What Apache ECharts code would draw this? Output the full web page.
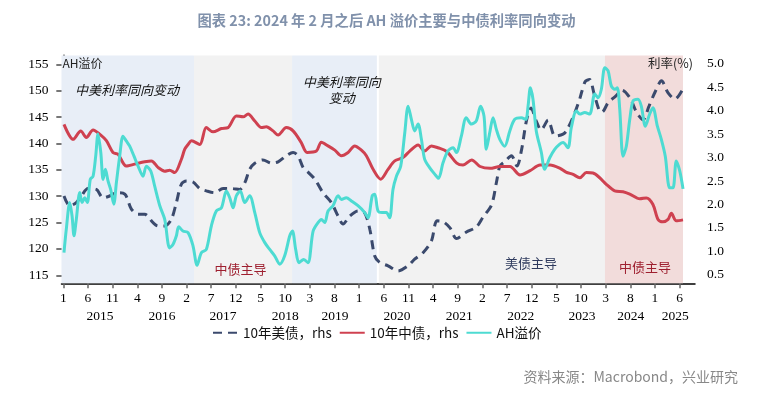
<!DOCTYPE html>
<html><head><meta charset="utf-8">
<script src="https://cdn.jsdelivr.net/npm/echarts@6/dist/echarts.min.js"></script>
<style>html,body{margin:0;padding:0;background:#fff}#c{width:773px;height:393px}</style>
</head><body><div id="c"></div>
<script>
// ---- data ----
const usDates = ['2015-01-05','2015-02-10','2015-03-20','2015-04-21','2015-06-01','2015-07-22','2015-09-03','2015-10-13','2015-11-24','2016-01-15',
'2016-02-25','2016-04-06','2016-05-16','2016-07-07','2016-08-07','2016-09-18','2016-10-28','2016-11-29','2016-12-29','2017-01-30',
'2017-03-10','2017-04-21','2017-06-01','2017-07-22','2017-09-13','2017-11-03','2017-12-24','2018-01-25','2018-02-25','2018-03-26',
'2018-05-16','2018-07-07','2018-08-18','2018-10-08','2018-11-19','2018-12-19','2019-01-20','2019-02-20','2019-04-01','2019-05-21',
'2019-07-12','2019-08-23','2019-09-23','2019-11-04','2019-12-24','2020-02-05','2020-03-06','2020-04-06','2020-05-06','2020-06-27',
'2020-08-28','2020-10-29','2020-12-09','2021-01-30','2021-03-21','2021-04-25','2021-06-03','2021-07-14','2021-08-24','2021-10-24',
'2021-12-25','2022-02-05','2022-03-27','2022-04-27','2022-05-18','2022-06-17','2022-07-28','2022-09-02','2022-09-29','2022-10-30',
'2022-11-27','2022-12-29','2023-01-28','2023-03-11','2023-04-23','2023-06-12','2023-07-06','2023-08-25','2023-09-25','2023-10-26',
'2023-11-23','2023-12-21','2024-01-21','2024-02-09','2024-03-16','2024-05-04','2024-06-11','2024-07-30','2024-09-09','2024-10-19',
'2024-11-25','2025-01-02','2025-02-11','2025-03-21','2025-05-03','2025-06-22'];
const usYield = [2.18,1.97,2.04,2.18,2.34,2.32,2.14,2.18,2.25,2.22,
1.90,1.79,1.79,1.61,1.54,1.54,1.68,2.04,2.43,2.50,
2.48,2.34,2.29,2.25,2.34,2.34,2.32,2.46,2.75,2.88,
2.95,2.88,2.91,3.04,3.11,3.04,2.79,2.69,2.54,2.25,
2.04,1.75,1.58,1.75,1.86,1.82,1.47,0.90,0.76,0.69,
0.58,0.69,0.83,0.97,1.22,1.65,1.63,1.50,1.27,1.41,
1.52,1.73,1.99,2.48,2.82,2.91,3.04,2.82,3.16,3.80,
4.06,3.78,3.59,3.80,3.46,3.50,3.59,3.97,4.27,4.62,
4.67,4.36,4.02,3.97,4.17,4.32,4.44,4.27,3.97,3.81,
4.10,4.40,4.64,4.38,4.25,4.47];

const cnDates = ['2015-01-05','2015-03-01','2015-04-17','2015-05-21','2015-07-02','2015-08-12','2015-09-23','2015-11-03','2015-12-04','2016-01-24',
'2016-03-15','2016-05-16','2016-06-27','2016-08-07','2016-09-18','2016-10-18','2016-11-19','2016-12-29','2017-01-20','2017-02-10',
'2017-03-01','2017-04-21','2017-06-01','2017-07-12','2017-09-03','2017-10-13','2017-12-04','2018-01-15','2018-02-15','2018-03-26',
'2018-05-06','2018-06-06','2018-07-17','2018-08-18','2018-10-08','2018-11-19','2019-01-09','2019-02-14','2019-04-11','2019-05-11',
'2019-06-22','2019-08-03','2019-09-13','2019-10-24','2019-12-04','2020-01-15','2020-02-15','2020-03-26','2020-05-12','2020-06-27',
'2020-08-08','2020-09-28','2020-11-09','2020-12-30','2021-02-10','2021-03-21','2021-05-01','2021-06-24','2021-08-25','2021-10-03',
'2021-11-26','2022-01-17','2022-03-18','2022-05-18','2022-07-19','2022-09-20','2022-11-21','2023-01-22','2023-03-23','2023-05-24',
'2023-06-30','2023-08-13','2023-09-24','2023-11-04','2023-12-14','2024-01-25','2024-03-05','2024-04-26','2024-06-17','2024-07-28',
'2024-09-29','2024-11-09','2024-12-19','2025-01-20','2025-02-20','2025-03-21','2025-04-11','2025-05-11','2025-06-22'];
const cnYield = [3.71,3.39,3.57,3.43,3.59,3.50,3.36,3.11,3.07,2.82,
2.86,2.91,2.93,2.79,2.71,2.73,2.68,2.96,3.18,3.28,
3.36,3.28,3.64,3.55,3.62,3.64,3.89,3.87,3.93,3.78,
3.64,3.66,3.57,3.48,3.64,3.57,3.32,3.11,3.14,3.33,
3.25,3.16,3.04,3.11,3.25,3.16,3.04,2.75,2.54,2.75,
2.93,3.00,3.14,3.27,3.14,3.25,3.21,3.13,2.88,2.84,
2.95,2.81,2.77,2.81,2.81,2.63,2.72,2.84,2.84,2.77,
2.69,2.64,2.57,2.68,2.67,2.57,2.43,2.29,2.27,2.22,
2.12,2.14,2.00,1.68,1.63,1.68,1.81,1.65,1.67];

const ahDates = ['2015-01-05','2015-01-19','2015-02-10','2015-02-24','2015-03-06','2015-03-20','2015-04-11','2015-04-25','2015-05-11','2015-05-27',
'2015-06-15','2015-07-02','2015-07-18','2015-08-02','2015-08-19','2015-09-03','2015-09-17','2015-10-03','2015-10-19','2015-11-08',
'2015-11-24','2015-12-14','2016-01-04','2016-01-24','2016-02-15','2016-03-11','2016-04-06','2016-05-06','2016-05-26','2016-06-23',
'2016-07-17','2016-08-18','2016-09-18','2016-10-18','2016-11-09','2016-11-29','2016-12-13','2017-01-09','2017-02-10','2017-03-10',
'2017-04-05','2017-05-01','2017-06-01','2017-07-02','2017-08-02','2017-09-03','2017-10-03','2017-10-24','2017-11-14','2017-12-04',
'2017-12-28','2018-01-25','2018-02-25','2018-03-26','2018-04-26','2018-05-27','2018-06-27','2018-07-27','2018-08-28','2018-09-28',
'2018-10-29','2018-11-15','2018-12-05','2018-12-25','2019-01-24','2019-02-20','2019-03-21','2019-04-21','2019-05-11','2019-06-02',
'2019-06-22','2019-07-22','2019-08-23','2019-09-13','2019-10-13','2019-11-14','2019-12-24','2020-02-05','2020-02-25','2020-03-21',
'2020-04-06','2020-04-26','2020-05-21','2020-06-17','2020-07-07','2020-07-27','2020-08-18','2020-09-14','2020-10-09','2020-10-29',
'2020-11-19','2020-12-09','2020-12-30','2021-01-20','2021-02-10','2021-03-11','2021-04-11','2021-05-04','2021-06-02','2021-07-02',
'2021-08-03','2021-08-23','2021-09-23','2021-10-23','2021-11-24','2021-12-24','2022-01-20','2022-02-11','2022-02-25','2022-03-16',
'2022-04-06','2022-04-26','2022-05-17','2022-06-17','2022-07-18','2022-08-18','2022-09-28','2022-10-25','2022-11-09','2022-11-23',
'2022-12-09','2022-12-29','2023-01-30','2023-02-20','2023-03-21','2023-04-21','2023-05-22','2023-06-12','2023-07-12','2023-08-02',
'2023-09-03','2023-09-24','2023-10-24','2023-11-24','2023-12-25','2024-01-15','2024-02-05','2024-02-26','2024-03-16','2024-04-06',
'2024-04-27','2024-05-12','2024-05-27','2024-06-17','2024-07-07','2024-07-28','2024-08-18','2024-09-18','2024-10-08','2024-11-03',
'2024-11-29','2024-12-19','2025-01-16','2025-02-10','2025-03-04','2025-04-01','2025-04-21','2025-05-11','2025-06-02','2025-06-22'];
const ahPremium = [119.3,123.7,128.8,126.3,122.5,125.6,130.7,128.8,129.7,128.8,
133.2,133.8,137.6,141.8,138.3,133.2,135.1,132.9,131.3,128.5,
132.6,137.6,141.4,140.5,139.5,137.6,135.7,133.8,135.7,134.8,
131.9,128.2,125.6,120.2,120.9,122.5,124.2,123.4,123.1,120.6,
116.9,119.3,119.9,124.4,127.2,127.8,131.0,129.7,127.8,130.1,
131.0,128.8,130.1,126.9,123.1,121.2,119.9,118.7,117.1,118.7,
122.5,123.4,119.9,117.4,118.0,117.4,123.4,125.0,125.6,125.0,
127.2,128.2,130.1,129.4,129.7,129.1,128.2,126.9,125.9,130.1,
130.4,127.2,126.9,126.9,125.9,131.3,133.8,135.7,142.1,147.1,
144.6,142.4,143.7,140.8,137.0,135.4,134.2,133.4,136.4,138.6,
139.2,138.3,141.4,144.9,143.7,144.3,147.1,145.2,138.9,142.1,
144.9,142.7,140.8,139.5,142.4,144.6,144.9,144.6,147.1,150.6,
148.4,142.4,138.3,135.1,137.3,138.9,139.9,140.2,139.2,143.0,
146.2,145.6,145.9,145.6,149.4,148.7,150.3,154.4,153.8,150.9,
150.3,150.6,146.5,137.6,139.5,144.6,148.1,148.4,147.1,143.3,
145.6,146.8,143.3,140.8,137.6,131.6,131.6,136.7,134.8,131.4];

const leftTicks = [115,120,125,130,135,140,145,150,155];
const rightTicks = [0.5,1.0,1.5,2.0,2.5,3.0,3.5,4.0,4.5,5.0];
const monthTickLabels = ['1','6','11','4','9','2','7','12','5','10','3','8','1','6','11','4','9','2','7','12','5','10','3','8','1','6'];
const yearLabels = ['2015','2016','2017','2018','2019','2020','2021','2022','2023','2024','2025'];
const yearLabelDates = ['2015-08-14','2016-09-01','2017-09-13','2018-10-01','2019-08-04','2020-08-22','2021-09-10','2022-09-25','2023-10-07','2024-08-04','2025-05-04'];
// shaded periods: [start, end, kind]
const periods = [['2015-01-01','2017-03-16','同向'],['2017-03-16','2018-11-13','中债'],['2018-11-13','2020-04-19','同向'],['2020-05-01','2024-02-27','美债'],['2024-02-27','2025-06-22','中债2']];

// ---- helpers ----
function mi(d){ const p=d.split('-').map(Number); return (p[0]-2015)*12+(p[1]-1)+(p[2]-1)/30; }
const X_MIN=-0.37, X_MAX=128.13;
const bandColor = {'同向':'#e8eef7','中债':'#f2f2f2','美债':'#f2f2f2','中债2':'#f2dcdb'};
const serif = "'Liberation Serif','DejaVu Serif',serif";
const cjk = "'Noto Sans CJK SC','Noto Sans',sans-serif";

const chart = echarts.init(document.getElementById('c'));
const monthTickVals = monthTickLabels.map((_,i)=>i*5);
const yearVals = yearLabelDates.map(mi);

const option = {
  animation:false,
  backgroundColor:'#fff',
  title:{text:'图表 23: 2024 年 2 月之后 AH 溢价主要与中债利率同向变动', left:'center', top:8,
    textStyle:{fontFamily:cjk, fontSize:14.3, fontWeight:'bold', color:'#8091ab'}},
  grid:{left:61.5, right:78, top:55.5, bottom:109.7, containLabel:false},
  legend:{left:212, top:326, itemGap:7, itemWidth:25, itemHeight:12, padding:0,
    itemStyle:{opacity:0},
    textStyle:{fontFamily:cjk, fontSize:13.5, color:'#111'},
    data:['10年美债，rhs','10年中债，rhs','AH溢价']},
  xAxis:[{type:'value', min:X_MIN, max:X_MAX, position:'bottom',
      axisLine:{show:true, lineStyle:{color:'#000', width:1.5}},
      axisTick:{show:true, customValues:monthTickVals, length:5, lineStyle:{color:'#666', width:1.5}},
      axisLabel:{customValues:monthTickVals, margin:8, fontFamily:serif, fontSize:13.5, color:'#000',
        formatter:v=>monthTickLabels[Math.round(v/5)]},
      splitLine:{show:false}},
    {type:'value', min:X_MIN, max:X_MAX, position:'bottom', gridIndex:0,
      axisLine:{show:false}, axisTick:{show:false}, splitLine:{show:false},
      axisLabel:{customValues:yearVals, margin:26, fontFamily:serif, fontSize:13.5, color:'#000',
        formatter:v=>{let b=0,bd=1e9;yearVals.forEach((y,i)=>{if(Math.abs(y-v)<bd){bd=Math.abs(y-v);b=i;}});return yearLabels[b];}}}],
  yAxis:[{type:'value', min:113.48, max:156.71, position:'left',
      axisLine:{show:true, lineStyle:{color:'#000', width:1.5}},
      axisTick:{show:true, customValues:leftTicks, length:7, lineStyle:{color:'#777', width:2}},
      axisLabel:{customValues:leftTicks, margin:13, fontFamily:serif, fontSize:13.5, color:'#000'},
      splitLine:{show:false}},
    {type:'value', min:0.316, max:5.18, position:'right',
      axisLine:{show:true, lineStyle:{color:'#7f7f7f', width:2}},
      axisTick:{show:true, customValues:rightTicks, length:7, lineStyle:{color:'#777', width:2}},
      axisLabel:{customValues:rightTicks, margin:12, fontFamily:serif, fontSize:13.5, color:'#000', formatter:v=>v.toFixed(1)},
      splitLine:{show:false}}],
  series:[
    {name:'bands', type:'line', data:[], xAxisIndex:0, yAxisIndex:0, z:1, silent:true,
      markArea:{silent:true, data: periods.map(p=>[{xAxis: p[0]===periods[0][0]?X_MIN:mi(p[0]), itemStyle:{color:bandColor[p[2]]}},{xAxis:mi(p[1])}])}},
    {name:'10年美债，rhs', type:'line', xAxisIndex:0, yAxisIndex:1, z:3, symbol:'none', smooth:0.3,
      data: usDates.map((d,i)=>[mi(d), usYield[i]]),
      lineStyle:{color:'#3b4a6d', width:3, type:[9,6]}, itemStyle:{color:'#3b4a6d'}},
    {name:'10年中债，rhs', type:'line', xAxisIndex:0, yAxisIndex:1, z:4, symbol:'none', smooth:0.3,
      data: cnDates.map((d,i)=>[mi(d), cnYield[i]]),
      lineStyle:{color:'#cf4150', width:3}, itemStyle:{color:'#cf4150'}},
    {name:'AH溢价', type:'line', xAxisIndex:0, yAxisIndex:0, z:5, symbol:'none', smooth:0.3,
      data: ahDates.map((d,i)=>[mi(d), ahPremium[i]]),
      lineStyle:{color:'#4ddbd2', width:3}, itemStyle:{color:'#4ddbd2'}}
  ]
};
chart.setOption(option);

// annotations anchored in data space
const notes = [
  {text:'中美利率同向变动', at:['2016-01-29',150.2], color:'#111', italic:true},
  {text:'中美利率同向\n变动', at:['2019-09-16',150.2], color:'#111', italic:true},
  {text:'中债主导', at:['2017-12-29',116.2], color:'#9e1f2f', italic:false},
  {text:'美债主导', at:['2022-11-27',117.3], color:'#2f3b5e', italic:false},
  {text:'中债主导', at:['2024-11-01',116.6], color:'#9e1f2f', italic:false}
];
const g = notes.map(n=>{
  const p = chart.convertToPixel({xAxisIndex:0, yAxisIndex:0}, [mi(n.at[0]), n.at[1]]);
  return {type:'text', x:p[0], y:p[1], z:10, silent:true,
    style:{text:n.text, fill:n.color, font:(n.italic?'italic ':'')+'13px '+cjk, align:'center', verticalAlign:'middle', lineHeight:16}};
});
// axis titles at the top corners of the plot
const tl = chart.convertToPixel({xAxisIndex:0, yAxisIndex:0}, [X_MIN, 155]);
const tr = chart.convertToPixel({xAxisIndex:0, yAxisIndex:1}, [X_MAX, 5.0]);
g.push({type:'text', x:tl[0]+1, y:tl[1]-1, z:10, silent:true,
  style:{text:'AH溢价', fill:'#222', font:'12px '+cjk, align:'left', verticalAlign:'middle'}});
g.push({type:'text', x:tr[0]-2, y:tr[1]-1, z:10, silent:true,
  style:{text:'利率(%)', fill:'#222', font:'12.5px '+cjk, align:'right', verticalAlign:'middle'}});
g.push({type:'text', right:35, top:370, silent:true,
  style:{text:'资料来源：Macrobond，兴业研究', fill:'#888', font:'14px '+cjk}});
chart.setOption({graphic:g});
</script></body></html>
